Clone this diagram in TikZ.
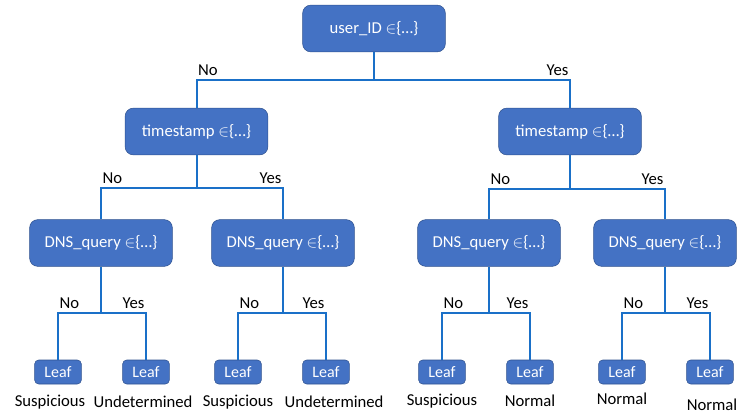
\documentclass[tikz,border=0pt]{standalone}
\usepackage{fontspec}
\setmainfont{Carlito}
\usepackage{tikz}
\definecolor{boxblue}{RGB}{68,114,196}
\definecolor{boxedge}{RGB}{47,82,143}
\definecolor{linkblue}{RGB}{26,112,200}

\begin{document}
\begin{tikzpicture}[x=0.75pt,y=-0.75pt,
    split/.style={fill=boxblue,draw=boxedge,rounded corners=6pt,text=white,
      minimum width=107pt,minimum height=35pt,inner sep=2pt,
      font=\fontsize{12.5}{15}\selectfont},
    leaf/.style={fill=boxblue,draw=boxedge,rounded corners=3pt,text=white,
      minimum width=35pt,minimum height=18pt,inner sep=1pt,
      font=\fontsize{12}{14}\selectfont},
    link/.style={draw=linkblue,line width=1.5pt},
    answer/.style={font=\fontsize{12.5}{15}\selectfont,inner sep=1pt}]
  \useasboundingbox (0,0) rectangle (739,414);

  % splits
  \node[split] (root) at (374,28.5) {user\_ID \ensuremath{\in}\{…\}};
  \node[split] (t1) at (196.5,131.5) {timestamp \ensuremath{\in}\{…\}};
  \node[split] (t2) at (570,131.5) {timestamp \ensuremath{\in}\{…\}};
  \node[split] (d1) at (101,243) {DNS\_query \ensuremath{\in}\{…\}};
  \node[split] (d2) at (283,243) {DNS\_query \ensuremath{\in}\{…\}};
  \node[split] (d3) at (489,243) {DNS\_query \ensuremath{\in}\{…\}};
  \node[split] (d4) at (665,243) {DNS\_query \ensuremath{\in}\{…\}};

  % leaves
  \foreach \n/\x in {l1/58,l2/146,l3/238,l4/326,l5/442,l6/530,l7/622,l8/710}
    \node[leaf] (\n) at (\x,372) {Leaf};

  % outcomes
  \node[answer] (o1) at (50,402) {Suspicious};
  \node[answer] (o2) at (143,402) {Undetermined};
  \node[answer] (o3) at (238,402) {Suspicious};
  \node[answer] (o4) at (334,402) {Undetermined};
  \node[answer] (o5) at (442,401) {Suspicious};
  \node[answer] (o6) at (530,401) {Normal};
  \node[answer] (o7) at (622,399) {Normal};
  \node[answer] (o8) at (712,405) {Normal};

  % branches
  \foreach \p/\a/\b/\y in {root/t1/t2/80, t1/d1/d2/188, t2/d3/d4/189,
      d1/l1/l2/313, d2/l3/l4/313, d3/l5/l6/313, d4/l7/l8/313} {
    \draw[link] (\p.south) -- (\p.south |- 0,\y);
    \draw[link] (\a.north) |- (\b.north |- 0,\y) -- (\b.north);
    \node[answer,anchor=south west,yshift=2pt] at (\a.north |- 0,\y) {No};
    \node[answer,anchor=south east,yshift=2pt] at (\b.north |- 0,\y) {Yes};
  }
\end{tikzpicture}
\end{document}
